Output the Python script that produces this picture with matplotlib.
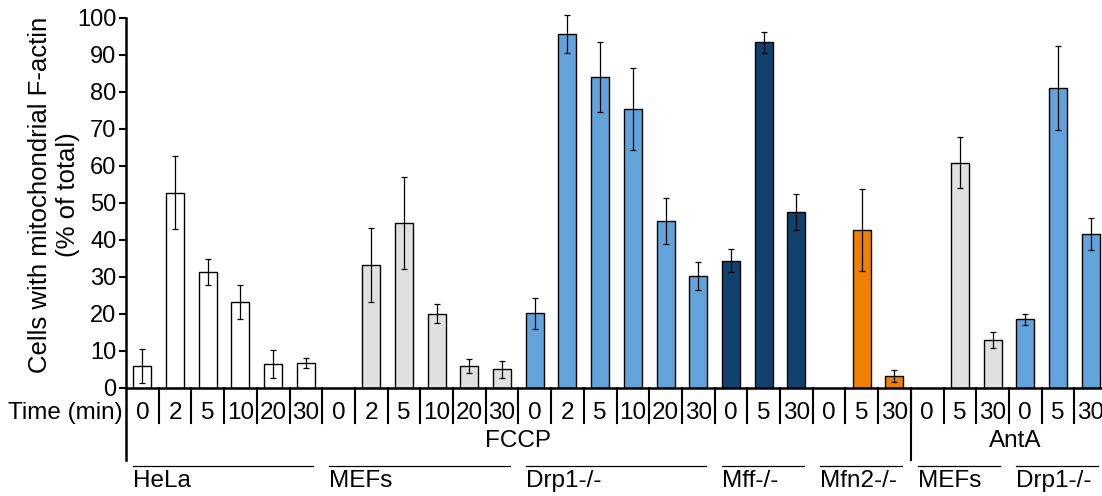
import numpy as np
import matplotlib
matplotlib.use("Agg")
from matplotlib import pyplot as plt
from matplotlib import transforms

plt.rcParams['font.family'] = ['Liberation Sans', 'DejaVu Sans']

# Time points (one slot per bar)
times = ['0', '2', '5', '10', '20', '30',
         '0', '2', '5', '10', '20', '30',
         '0', '2', '5', '10', '20', '30',
         '0', '5', '30',
         '0', '5', '30',
         '0', '5', '30',
         '0', '5', '30']

# Percent of cells with mitochondrial F-actin (0 = not shown)
values = [5.8, 52.7, 31.3, 23.0, 6.4, 6.7,
          0, 33.1, 44.5, 20.0, 5.8, 4.9,
          20.1, 95.6, 83.9, 75.2, 45.0, 30.1,
          34.3, 93.3, 47.4,
          0, 42.6, 3.2,
          0, 60.8, 12.8,
          18.4, 80.9, 41.4]
errors = [4.6, 9.8, 3.5, 4.6, 3.8, 1.3,
          0, 10.0, 12.5, 2.6, 2.0, 2.3,
          4.2, 5.2, 9.4, 11.1, 6.1, 3.7,
          3.0, 2.9, 4.8,
          0, 11.0, 1.6,
          0, 7.0, 2.1,
          1.6, 11.3, 4.3]
cell_lines = ['HeLa', 'MEFs', 'Drp1-/-', 'Mff-/-', 'Mfn2-/-', 'MEFs', 'Drp1-/-']
group_sizes = [6, 6, 6, 3, 3, 3, 3]
treatments = ['FCCP', 'AntA']
treatment_sizes = [24, 6]

line_colors = ['#ffffff', '#e0e0e0', '#62a3dc', '#11426e', '#ee8100', '#e0e0e0', '#62a3dc']

colors = []
for c, n in zip(line_colors, group_sizes):
    colors += [c] * n

fig = plt.figure(figsize=(11.02, 4.96), dpi=100)
ax = fig.add_axes([126 / 1102, 108.5 / 496, 981 / 1102, 370 / 496])

x = np.arange(len(values))
show = np.array(values) > 0
ax.bar(x[show], np.array(values)[show], width=0.55, color=np.array(colors)[show],
       edgecolor='black', linewidth=1.0, zorder=2)
eb = ax.errorbar(x[show], np.array(values)[show], yerr=np.array(errors)[show], fmt='none',
                 ecolor='black', elinewidth=0.9, capsize=2, capthick=0.9, zorder=3)
for art in eb.lines[1] + eb.lines[2]:
    art.set_clip_on(False)
for art in eb.get_children():
    art.set_clip_on(False)

ax.set_xlim(-0.5, len(values) - 0.5)
ax.set_ylim(0, 100)
ax.set_yticks(np.arange(0, 101, 10))
ax.tick_params(axis='y', labelsize=17, length=5, width=1.5, pad=2)
ax.set_xticks([])
for s in ['top', 'right']:
    ax.spines[s].set_visible(False)
ax.spines['left'].set_linewidth(1.8)
ax.spines['bottom'].set_linewidth(1.8)

fig.text(54 / 1102, 1 - 195 / 496, 'Cells with mitochondrial F-actin\n(% of total)',
         rotation=90, ha='center', va='center', multialignment='center',
         fontsize=18.5, linespacing=1.25)

# Table below the axis
trans = transforms.blended_transform_factory(ax.transData, ax.transAxes)
ax.plot([-0.5, -0.5], [0, -0.196], color='black', lw=1.8, transform=trans, clip_on=False)
for k in range(1, len(values)):
    ax.plot([k - 0.5, k - 0.5], [0, -0.096], color='black', lw=1.5, transform=trans, clip_on=False)
for i, t in enumerate(times):
    ax.text(i, -0.069, t, ha='center', va='center', fontsize=17.5, transform=trans)
ax.text(-0.6, -0.069, 'Time (min)', ha='right', va='center', fontsize=17.5, transform=trans)

start = 0
for name, n in zip(treatments, treatment_sizes):
    if start > 0:
        ax.plot([start - 0.5, start - 0.5], [0, -0.196], color='black', lw=1.5,
                transform=trans, clip_on=False)
    cx = start + n / 2 - 0.5 if start == 0 else start + n / 2 - 0.3
    ax.text(cx, -0.145, name, ha='center', va='center', fontsize=17.5, transform=trans)
    start += n

start = 0
for name, n in zip(cell_lines, group_sizes):
    x0 = start - 0.5 + 0.22
    x1 = start + n - 0.5 - 0.27
    ax.plot([x0, x1], [-0.212, -0.212], color='black', lw=0.9, transform=trans, clip_on=False)
    ax.text(x0, -0.253, name, ha='left', va='center', fontsize=17.5, transform=trans)
    start += n

fig.savefig('out.png', dpi=100)
